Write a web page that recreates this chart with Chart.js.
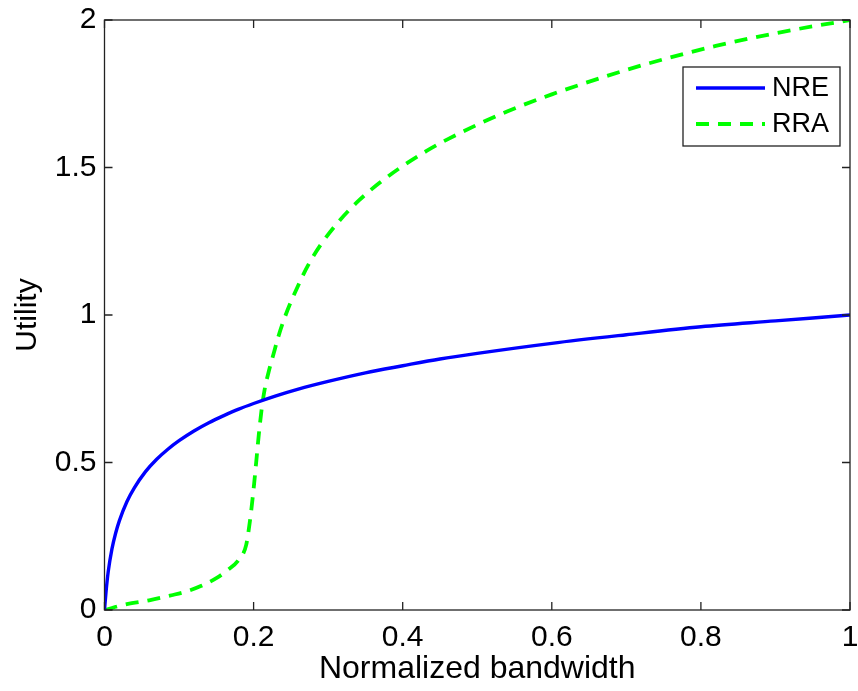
<!DOCTYPE html>
<html>
<head>
<meta charset="utf-8">
<script src="https://cdn.jsdelivr.net/npm/chart.js@4.4.1/dist/chart.umd.min.js"></script>
<style>
  html, body { margin: 0; padding: 0; background: #fff; }
  #wrap { width: 858px; height: 691px; }
</style>
</head>
<body>
<div id="wrap"><canvas id="utilChart" width="858" height="691"></canvas></div>
<script>
// NRE curve: normalized bandwidth -> utility
const nreBandwidth = [0, 0.002, 0.005, 0.01, 0.015, 0.02, 0.03, 0.04, 0.055, 0.07, 0.085, 0.1, 0.12, 0.14, 0.16, 0.18, 0.2, 0.23, 0.26, 0.3, 0.35, 0.4, 0.45, 0.5, 0.6, 0.7, 0.8, 0.9, 1.0];
const nreUtility = [0, 0.06, 0.13, 0.207, 0.261, 0.303, 0.367, 0.414, 0.469, 0.511, 0.545, 0.574, 0.607, 0.635, 0.659, 0.681, 0.700, 0.726, 0.749, 0.775, 0.804, 0.828, 0.851, 0.870, 0.904, 0.933, 0.96, 0.98, 1.0];

// RRA curve
const rraBandwidth = [0, 0.03, 0.06, 0.09, 0.11, 0.13, 0.15, 0.165, 0.18, 0.19, 0.195, 0.2, 0.204, 0.207, 0.211, 0.215, 0.22, 0.227, 0.233, 0.243, 0.258, 0.273, 0.29, 0.316, 0.342, 0.369, 0.396, 0.432, 0.462, 0.5, 0.54, 0.6, 0.665, 0.73, 0.82, 0.91, 1.0];
const rraUtility = [0, 0.02, 0.033, 0.05, 0.063, 0.082, 0.108, 0.135, 0.17, 0.22, 0.3, 0.41, 0.515, 0.595, 0.685, 0.75, 0.805, 0.87, 0.925, 1.0, 1.09, 1.168, 1.238, 1.322, 1.39, 1.448, 1.498, 1.556, 1.598, 1.645, 1.69, 1.748, 1.803, 1.853, 1.912, 1.96, 2.0];

const xTicks = [0, 0.2, 0.4, 0.6, 0.8, 1];
const yTicks = [0, 0.5, 1, 1.5, 2];

const seriesNames = ['NRE', 'RRA'];

function toPoints(xs, ys) {
    return xs.map((x, i) => ({ x: x, y: ys[i] }));
}

const FONT = 'Liberation Sans, Arial, Helvetica, sans-serif';

// box around the plot with inward tick marks on all four sides
const boxTicks = {
    id: 'boxTicks',
    afterDraw(chart) {
        const { ctx, chartArea: a, scales } = chart;
        const len = 8;
        ctx.save();
        ctx.strokeStyle = '#222';
        ctx.lineWidth = 1.3;
        ctx.strokeRect(a.left, a.top, a.right - a.left, a.bottom - a.top);
        ctx.beginPath();
        xTicks.forEach(v => {
            const px = scales.x.getPixelForValue(v);
            ctx.moveTo(px, a.bottom); ctx.lineTo(px, a.bottom - len);
            ctx.moveTo(px, a.top); ctx.lineTo(px, a.top + len);
        });
        yTicks.forEach(v => {
            const py = scales.y.getPixelForValue(v);
            ctx.moveTo(a.left, py); ctx.lineTo(a.left + len, py);
            ctx.moveTo(a.right, py); ctx.lineTo(a.right - len, py);
        });
        ctx.stroke();
        ctx.restore();
    }
};

// legend box in the upper right corner
const boxLegend = {
    id: 'boxLegend',
    afterDraw(chart) {
        const { ctx } = chart;
        const x0 = 683, y0 = 67, w = 157, h = 79;
        ctx.save();
        ctx.fillStyle = '#fff';
        ctx.fillRect(x0, y0, w, h);
        ctx.strokeStyle = '#222';
        ctx.lineWidth = 1.3;
        ctx.strokeRect(x0, y0, w, h);
        chart.data.datasets.forEach((ds, i) => {
            const cy = y0 + 21 + i * 36;
            ctx.strokeStyle = ds.borderColor;
            ctx.lineWidth = ds.borderWidth;
            ctx.setLineDash(ds.borderDash || []);
            ctx.beginPath();
            ctx.moveTo(696, cy);
            ctx.lineTo(765, cy);
            ctx.stroke();
            ctx.setLineDash([]);
            ctx.fillStyle = '#000';
            ctx.font = '27px ' + FONT;
            ctx.textBaseline = 'middle';
            ctx.fillText(ds.label, 772, cy + 1);
        });
        ctx.restore();
    }
};

new Chart(document.getElementById('utilChart').getContext('2d'), {
    type: 'scatter',
    data: {
        datasets: [
            {
                label: seriesNames[0],
                data: toPoints(nreBandwidth, nreUtility),
                showLine: true,
                borderColor: '#0000ff',
                borderWidth: 3.4,
                pointRadius: 0,
                cubicInterpolationMode: 'monotone'
            },
            {
                label: seriesNames[1],
                data: toPoints(rraBandwidth, rraUtility),
                showLine: true,
                borderColor: '#00ff00',
                borderWidth: 3.8,
                borderDash: [13, 9],
                pointRadius: 0,
                cubicInterpolationMode: 'monotone'
            }
        ]
    },
    options: {
        responsive: false,
        animation: false,
        layout: { padding: { top: 20, right: 8, left: 0, bottom: 0 } },
        plugins: {
            legend: { display: false },
            tooltip: { enabled: false }
        },
        scales: {
            x: {
                type: 'linear',
                min: 0,
                max: 1,
                afterBuildTicks: s => { s.ticks = xTicks.map(v => ({ value: v })); },
                afterFit: s => { s.height = 81; s.paddingLeft = 0; s.paddingRight = 0; },
                grid: { display: false, drawTicks: false },
                border: { display: false },
                ticks: {
                    padding: 10,
                    color: '#000',
                    font: { family: FONT, size: 30 },
                    callback: v => String(v)
                },
                title: {
                    display: true,
                    text: 'Normalized bandwidth',
                    color: '#000',
                    font: { family: FONT, size: 32 },
                    padding: { top: 0, bottom: 3 }
                }
            },
            y: {
                type: 'linear',
                min: 0,
                max: 2,
                afterBuildTicks: s => { s.ticks = yTicks.map(v => ({ value: v })); },
                afterFit: s => { s.width = 104.5; s.paddingTop = 0; s.paddingBottom = 0; },
                grid: { display: false, drawTicks: false },
                border: { display: false },
                ticks: {
                    padding: 8,
                    color: '#000',
                    font: { family: FONT, size: 30 },
                    callback: v => String(v)
                },
                title: {
                    display: true,
                    text: 'Utility',
                    color: '#000',
                    font: { family: FONT, size: 30 },
                    padding: { top: 10, bottom: 0 }
                }
            }
        }
    },
    plugins: [boxTicks, boxLegend]
});
</script>
</body>
</html>
